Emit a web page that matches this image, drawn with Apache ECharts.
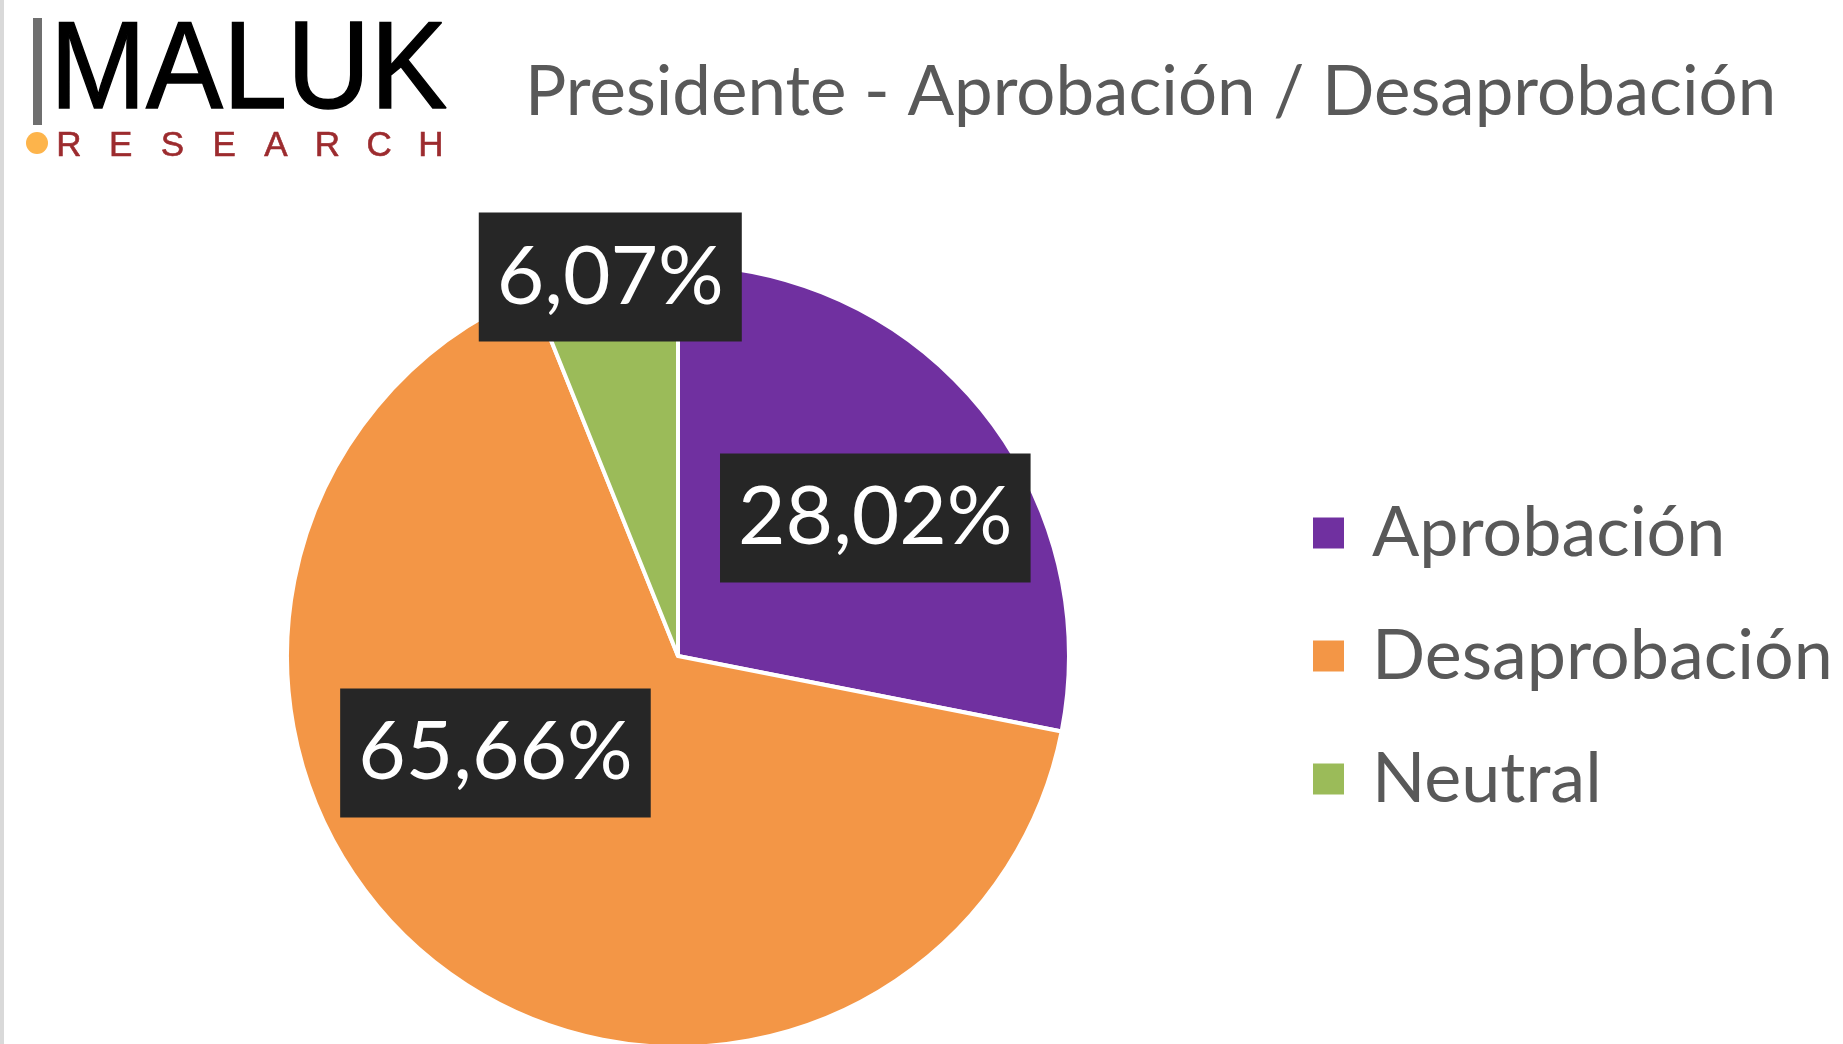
<!DOCTYPE html>
<html><head><meta charset="utf-8">
<script src="https://cdn.jsdelivr.net/npm/echarts@6/dist/echarts.min.js"></script>
<style>html,body{margin:0;padding:0;background:#fff}#c{width:1843px;height:1044px}</style>
</head><body><div id="c"></div>
<script>
const categories = ['Aprobación', 'Desaprobación', 'Neutral'];
const values = [28.02, 65.66, 6.07];
const colors = ['#7030A0', '#F39646', '#9BBB59'];
const titleText = 'Presidente - Aprobación / Desaprobación';
const logoMain = 'MALUK';
const logoSub = ['R', 'E', 'S', 'E', 'A', 'R', 'C', 'H'];

// label nudges (styling only)
const labelNudge = [[44, -12], [-56, -56], [-30, -184]];
const fmt = v => v.toFixed(2).replace('.', ',') + '%';
const FONT = 'Lato, "Open Sans", sans-serif';

const chart = echarts.init(document.getElementById('c'), null, {renderer: 'canvas'});

const graphics = [
  {type: 'rect', shape: {x: 0, y: 0, width: 4, height: 1044}, style: {fill: '#d9d9d9'}, silent: true},
  {type: 'rect', shape: {x: 33, y: 18, width: 9, height: 107}, style: {fill: '#6f6f6f'}, silent: true},
  {type: 'text', x: 50, y: 74, scaleX: 0.93, style: {text: logoMain, fill: '#000', font: '124px "Liberation Sans", Arial, sans-serif', verticalAlign: 'middle', align: 'left', stroke: '#000', lineWidth: 1.5}, silent: true},
  {type: 'circle', shape: {cx: 37, cy: 143, r: 11}, style: {fill: '#FDB44B'}, silent: true},
  {type: 'text', x: 525, y: 93, style: {text: titleText, fill: '#595959', font: '69px ' + FONT, verticalAlign: 'middle', align: 'left'}, silent: true}
];
logoSub.forEach((ch, i) => {
  graphics.push({type: 'text', x: 69 + i * 51.7, y: 146, style: {text: ch, fill: '#9C2B2E', font: '35px "Liberation Sans", Arial, sans-serif', verticalAlign: 'middle', align: 'center', stroke: '#9C2B2E', lineWidth: 0.6}, silent: true});
});

chart.setOption({
  backgroundColor: '#ffffff',
  animation: false,
  color: colors,
  graphic: graphics,
  legend: {
    orient: 'vertical',
    left: 1306,
    top: 493,
    icon: 'rect',
    itemWidth: 33,
    itemHeight: 33,
    itemGap: 53,
    selectedMode: false,
    data: categories,
    textStyle: {fontFamily: FONT, fontSize: 70, color: '#595959', lineHeight: 70, padding: [0, 0, 0, 22]}
  },
  series: [{
    type: 'pie',
    center: [678, 656],
    radius: 391,
    startAngle: 90,
    clockwise: true,
    avoidLabelOverlap: false,
    silent: true,
    emphasis: {disabled: true},
    itemStyle: {borderColor: '#ffffff', borderWidth: 4},
    label: {
      show: true,
      position: 'inside',
      formatter: p => fmt(p.value),
      color: '#ffffff',
      fontFamily: FONT,
      fontSize: 82,
      lineHeight: 100,
      backgroundColor: '#262626',
      padding: [14, 18, 15, 18]
    },
    labelLine: {show: false},
    labelLayout: p => ({dx: labelNudge[p.dataIndex][0], dy: labelNudge[p.dataIndex][1]}),
    data: categories.map((c, i) => ({name: c, value: values[i]}))
  }]
});
</script></body></html>
